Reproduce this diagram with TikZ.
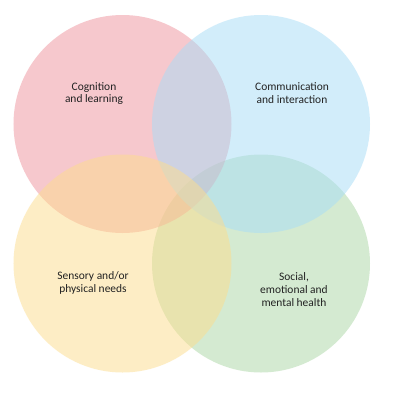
\documentclass[tikz,border=0pt]{standalone}
\usepackage{fontspec}
\setmainfont{Carlito}
\usepackage{tikz}
\usetikzlibrary{positioning}

\definecolor{cogpink}{RGB}{239,147,157}
\definecolor{combblue}{RGB}{167,221,247}
\definecolor{senyellow}{RGB}{253,221,141}
\definecolor{socgreen}{RGB}{171,215,165}
\definecolor{labeltext}{RGB}{34,34,34}

\begin{document}
\begin{tikzpicture}[
        x=1bp, y=-1bp,
        area/.style={circle, minimum size=218bp, inner sep=0pt, fill opacity=0.5},
        lbl/.style={align=center, text=labeltext, font=\fontsize{11.5}{13}\selectfont}
    ]
        \useasboundingbox[fill=white] (0,0) rectangle (400,404);

        % Four overlapping areas
        \node[area, fill=socgreen] (soc) at (261, 263.5) {};
        \node[area, fill=cogpink] (cog) at (122.5, 124) {};
        \node[area, fill=combblue] (comm) at (261, 124) {};
        \node[area, fill=senyellow] (sens) at (122.5, 263.5) {};

        % Labels
        \node[lbl] (coglbl) at (94, 93.5) {Cognition\\and learning};
        \node[lbl] (commlbl) at (292, 93.5) {Communication\\and interaction};
        \node[lbl] (senslbl) at (93, 283) {Sensory and/or\\physical needs};
        \node[lbl] (soclbl) at (294, 289.5) {Social,\\emotional and\\mental health};
    \end{tikzpicture}
\end{document}
